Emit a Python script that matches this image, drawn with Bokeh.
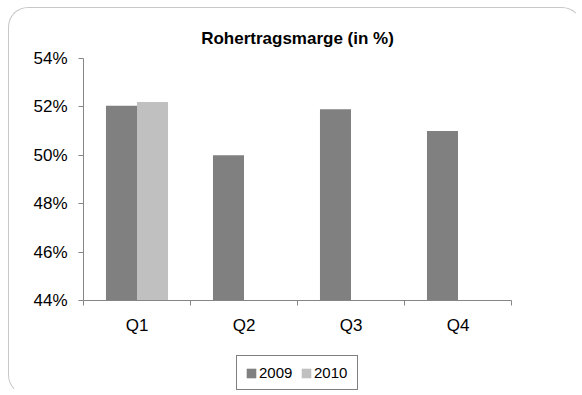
from bokeh.plotting import figure
from bokeh.models import (ColumnDataSource, FixedTicker, PrintfTickFormatter, Legend,
                          LegendItem, Range1d)
from bokeh.layouts import column
from bokeh.embed import file_html
from bokeh.resources import INLINE

categories = ["Q1", "Q2", "Q3", "Q4"]
values_2009 = [52.05, 50.0, 51.9, 51.0]
values_2010 = [52.2, float("nan"), float("nan"), float("nan")]
series_names = ["2009", "2010"]
colors = ["#808080", "#c0c0c0"]
y_ticks = [44, 46, 48, 50, 52, 54]

idx = list(range(len(categories)))
bar_w = 0.29
src = ColumnDataSource(dict(
    x09=[i + 0.5 - bar_w / 2 for i in idx],
    x10=[i + 0.5 + bar_w / 2 for i in idx],
    v09=values_2009, v10=values_2010))

BORDER = "1px solid #c8c8c8"
NOBORDER = "1px solid transparent"

p = figure(width=574, height=338, output_backend="svg", toolbar_location=None,
           x_range=Range1d(0, len(categories)), y_range=Range1d(44, 54),
           min_border_left=74, min_border_right=72, min_border_top=50, min_border_bottom=46,
           title="Rohertragsmarge (in %)")
p.styles = {"margin-left": "8px", "margin-top": "7px",
            "border-top": BORDER, "border-left": BORDER, "border-right": NOBORDER,
            "border-bottom": "none", "border-radius": "20px 20px 0 0"}
p.title.align = "center"
p.title.text_font = "Liberation Sans"
p.title.text_font_size = "17px"
p.title.text_font_style = "bold"
p.title.text_color = "#000000"
p.title.standoff = 22

p.outline_line_color = None
p.xgrid.grid_line_color = None
p.ygrid.grid_line_color = None
p.background_fill_color = "white"
p.border_fill_color = None

r09 = p.vbar(x="x09", top="v09", bottom=44, width=bar_w, source=src,
             fill_color=colors[0], line_color=None)
r10 = p.vbar(x="x10", top="v10", bottom=44, width=bar_w, source=src,
             fill_color=colors[1], line_color=None)

# x axis
xa = p.xaxis[0]
xa.ticker = FixedTicker(ticks=[i + 0.5 for i in idx], minor_ticks=list(range(len(categories) + 1)))
xa.major_label_overrides = {i + 0.5: c for i, c in zip(idx, categories)}
xa.major_tick_line_color = None
xa.major_tick_out = 5
xa.minor_tick_out = 5
xa.minor_tick_in = 0
xa.minor_tick_line_color = "#868686"
xa.axis_line_color = "#868686"
xa.major_label_standoff = 10
xa.major_label_text_font = "Liberation Sans"
xa.major_label_text_font_size = "17px"
xa.major_label_text_color = "#000000"

# y axis
ya = p.yaxis[0]
ya.ticker = FixedTicker(ticks=y_ticks)
ya.formatter = PrintfTickFormatter(format="%d%%")
ya.major_tick_out = 5
ya.major_tick_in = 0
ya.minor_tick_line_color = None
ya.major_tick_line_color = "#868686"
ya.axis_line_color = "#868686"
ya.major_label_standoff = 11
ya.major_label_text_font = "Liberation Sans"
ya.major_label_text_font_size = "17px"
ya.major_label_text_color = "#000000"

# legend strip (bottom part of the rounded box); its bars lie outside its view
pl = figure(width=574, height=50, output_backend="svg", toolbar_location=None,
            x_range=Range1d(0, len(categories)), y_range=Range1d(100, 101),
            x_axis_location=None, y_axis_location=None,
            min_border_left=0, min_border_right=0, min_border_top=0, min_border_bottom=0)
pl.styles = {"margin-left": "8px",
             "border-bottom": NOBORDER, "border-left": BORDER, "border-right": NOBORDER,
             "border-top": "none", "border-radius": "0 0 20px 20px"}
pl.outline_line_color = None
pl.xgrid.grid_line_color = None
pl.ygrid.grid_line_color = None
pl.background_fill_color = None
pl.border_fill_color = None
l09 = pl.vbar(x="x09", top="v09", bottom=44, width=bar_w, source=src,
              fill_color=colors[0], line_color=None)
l10 = pl.vbar(x="x10", top="v10", bottom=44, width=bar_w, source=src,
              fill_color=colors[1], line_color=None)

legend = Legend(items=[LegendItem(label=series_names[0], renderers=[l09]),
                       LegendItem(label=series_names[1], renderers=[l10])],
                orientation="horizontal", location=(153, 5),
                glyph_width=12, glyph_height=12, label_standoff=2,
                label_width=35, label_height=16, padding=8, spacing=6, margin=0,
                label_text_font="Liberation Sans", label_text_font_size="15px",
                label_text_color="#000000",
                border_line_color="#000000", border_line_width=1,
                background_fill_alpha=1)
pl.add_layout(legend, "center")

layout = column(p, pl, spacing=0)
open("out.html", "w").write(file_html(layout, INLINE))
